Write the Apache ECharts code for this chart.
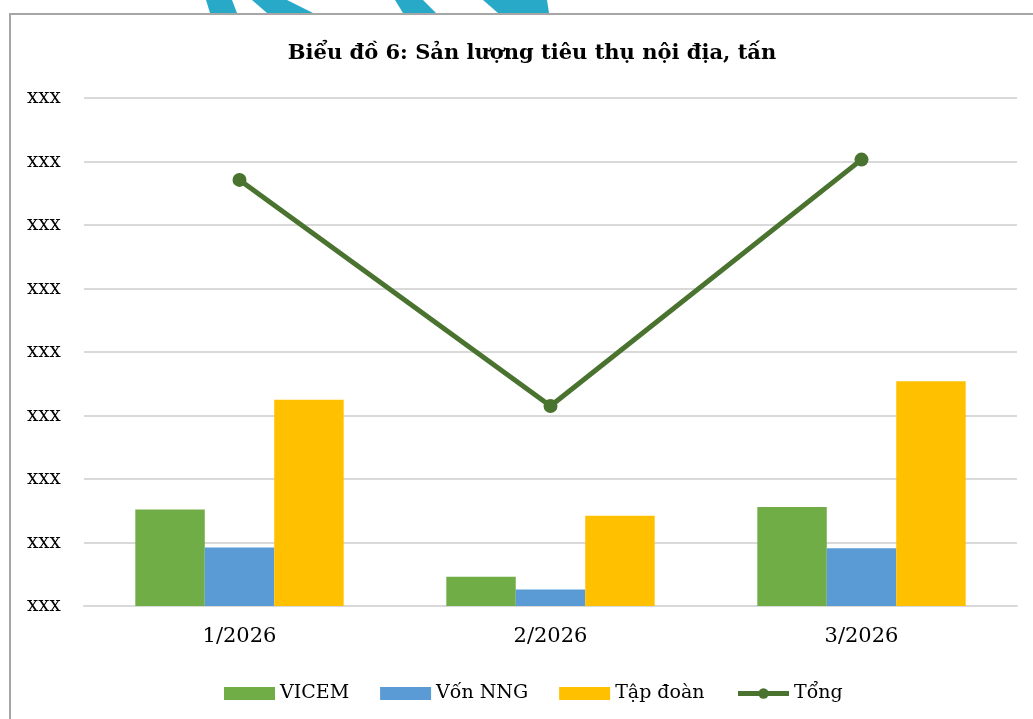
<!DOCTYPE html>
<html>
<head>
<meta charset="utf-8">
<script src="https://cdn.jsdelivr.net/npm/echarts@6/dist/echarts.min.js"></script>
<style>
  html, body { margin: 0; padding: 0; background: #fff; }
  #chart { width: 1033px; height: 719px; }
</style>
</head>
<body>
<div id="chart"></div>
<script>
// du lieu doc tu hinh (don vi = 1 vach luoi)
const months = ["1/2026", "2/2026", "3/2026"];
const vicem = [1.52, 0.46, 1.56];
const vonNNG = [0.92, 0.26, 0.91];
const tapDoan = [3.25, 1.42, 3.54];
const tong = [6.71, 3.15, 7.03];
const yTicks = ["xxx", "xxx", "xxx", "xxx", "xxx", "xxx", "xxx", "xxx", "xxx"];

const serif = "DejaVu Serif";
const teal = "#29a9c8";
const lineColor = "#4a7330";

let chart = echarts.init(document.getElementById("chart"));
chart.setOption({
  animation: false,
  backgroundColor: "#fff",
  title: {
    text: "Biểu đồ 6: Sản lượng tiêu thụ nội địa, tấn",
    left: 527, top: 38, textAlign: "center",
    textStyle: {fontFamily: serif, fontSize: 21, fontWeight: "bold", color: "#000"}
  },
  // khung va hoa van phia tren
  graphic: [
    {type: "rect", shape: {x: 10, y: 14, width: 1100, height: 800},
     style: {fill: "none", stroke: "#a6a6a6", lineWidth: 2}},
    {type: "polygon", shape: {points: [[206, 0], [232, 0], [237, 13], [210, 13]]}, style: {fill: teal}},
    {type: "polygon", shape: {points: [[252, 0], [287, 0], [313, 13], [267, 13]]}, style: {fill: teal}},
    {type: "polygon", shape: {points: [[395, 0], [423, 0], [436, 13], [403, 13]]}, style: {fill: teal}},
    {type: "polygon", shape: {points: [[483, 0], [547, 0], [549, 13], [498, 13]]}, style: {fill: teal}}
  ],
  legend: {
    left: 219, top: 679,
    itemWidth: 51, itemHeight: 13, itemGap: 31,
    textStyle: {fontFamily: serif, fontSize: 19, color: "#000"},
    data: [
      {name: "VICEM", icon: "rect"},
      {name: "Vốn NNG", icon: "rect"},
      {name: "Tập đoàn", icon: "rect"},
      {name: "Tổng", lineStyle: {width: 5, color: lineColor}, itemStyle: {color: lineColor}}
    ]
  },
  grid: {left: 84, right: 16, top: 98, bottom: 113},
  xAxis: {
    type: "category",
    data: months,
    axisLine: {lineStyle: {color: "#d9d9d9", width: 2}},
    axisTick: {show: false},
    axisLabel: {fontFamily: serif, fontSize: 21, color: "#000", margin: 20}
  },
  yAxis: {
    type: "value",
    min: 0, max: 8, interval: 1,
    axisLine: {show: false},
    axisTick: {show: false},
    splitLine: {lineStyle: {color: "#d9d9d9", width: 2}},
    axisLabel: {
      fontFamily: serif, fontSize: 20, color: "#000", margin: 57, align: "left",
      formatter: (v, i) => yTicks[i]
    }
  },
  series: [
    {name: "VICEM", type: "bar", data: vicem, barGap: "0%", barCategoryGap: "33%",
     itemStyle: {color: "#70ad47"}},
    {name: "Vốn NNG", type: "bar", data: vonNNG, itemStyle: {color: "#5b9bd5"}},
    {name: "Tập đoàn", type: "bar", data: tapDoan, itemStyle: {color: "#ffc000"}},
    {name: "Tổng", type: "line", data: tong, symbol: "circle", symbolSize: 14,
     lineStyle: {color: lineColor, width: 5}, itemStyle: {color: lineColor}}
  ]
});
</script>
</body>
</html>
